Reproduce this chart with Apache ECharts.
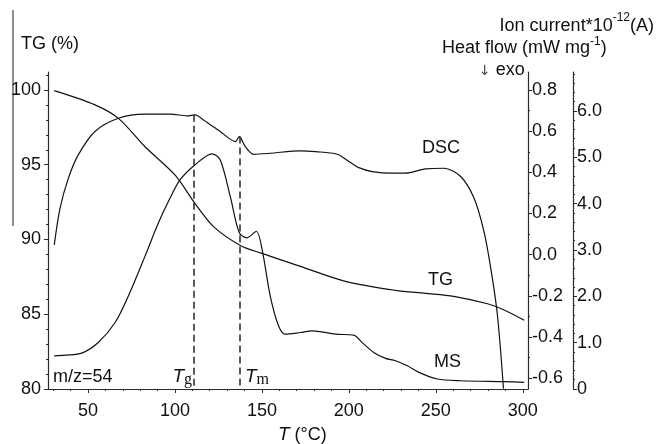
<!DOCTYPE html>
<html>
<head>
<meta charset="utf-8">
<script src="https://cdn.jsdelivr.net/npm/echarts@6/dist/echarts.min.js"></script>
<style>
  html, body { margin: 0; padding: 0; background: #fff; }
  #chart { width: 661px; height: 444px; }
</style>
</head>
<body>
<div id="chart"></div>
<script>
// Temperature (°C) / value pairs for the three thermal-analysis traces
const tgTemp = [30.6, 54, 67.5, 82.8, 100.1, 111.6, 122.2, 137.6, 149.1, 172.1, 198, 226.8, 244.1, 260.3, 279.7, 289, 300.8];
const tgMass = [99.95, 99.0, 98.1, 96.2, 94.3, 92.4, 90.86, 89.6, 89.1, 88.2, 87.2, 86.6, 86.4, 86.2, 85.7, 85.3, 84.6];

const dscTemp = [30.6, 33.9, 38.7, 44.4, 54, 67.5, 82.8, 97.2, 106.9, 111.6, 116.4, 126, 134.7, 137, 140.4, 145.2, 154.8, 172.1, 180.8, 193.3, 200, 205.7, 213.4, 224.9, 232.6, 244.1, 254.7, 264.3, 272, 277.7, 281.6, 285.4, 288.9];
const dscHeat = [0.047, 0.225, 0.371, 0.485, 0.599, 0.663, 0.683, 0.683, 0.675, 0.680, 0.655, 0.599, 0.550, 0.574, 0.526, 0.488, 0.493, 0.505, 0.501, 0.488, 0.453, 0.423, 0.404, 0.396, 0.396, 0.417, 0.420, 0.380, 0.274, 0.112, -0.067, -0.293, -0.651];

const msTemp = [30.6, 36.8, 46.4, 55.9, 65.6, 73.2, 82.8, 90.5, 97.2, 103, 111.6, 121.3, 126, 131.8, 137, 141.4, 146.8, 150.1, 154.8, 159.6, 163.5, 172.1, 178.9, 192.3, 202.8, 207.7, 214.3, 221.1, 226.8, 233.6, 240.3, 250.9, 264.3, 289.2, 300.8];
const msIon = [0.716, 0.731, 0.774, 1.004, 1.434, 2.006, 2.867, 3.585, 4.12, 4.516, 4.839, 5.075, 4.946, 4.157, 3.37, 3.262, 3.404, 3.011, 2.006, 1.361, 1.183, 1.219, 1.254, 1.183, 1.161, 1.0, 0.789, 0.66, 0.609, 0.50, 0.359, 0.215, 0.178, 0.157, 0.144];

// Glass transition and melting temperatures, and the DSC value where each marker starts
const tgMarkTemp = 111, tgMarkHeat = 0.68;
const tmMarkTemp = 137, tmMarkHeat = 0.574;

// Axis ticks
const tempTicks = [50, 100, 150, 200, 250, 300];
const massTicks = [80, 85, 90, 95, 100];
const heatTicks = [-0.6, -0.4, -0.2, 0, 0.2, 0.4, 0.6, 0.8];
const ionTicks = [0, 1, 2, 3, 4, 5, 6];

function steps(a, b, s) {
  const out = [];
  for (let i = 0; a + i * s <= b + 1e-9; i++) out.push(+(a + i * s).toFixed(4));
  return out;
}
const tempMinor = steps(30, 300, 10);
const massMinor = steps(80, 101, 1);
const heatMinor = steps(-0.6, 0.8, 0.1);
const ionMinor = steps(0, 6.8, 0.2);

const FONT = "'Liberation Sans', Arial, Helvetica, sans-serif";
const SERIF = "'Liberation Serif', 'Times New Roman', serif";
const INK = '#111';
const AXIS = '#2a2a2a';
const FS = 18;

const pairs = (xs, ys) => xs.map((x, i) => [x, ys[i]]);

const chart = echarts.init(document.getElementById('chart'), null, { renderer: 'canvas' });

// Measures text so inline super/subscripts can be placed right after the base text
const mctx = document.createElement('canvas').getContext('2d');
function widthOf(t, size, family, style) {
  mctx.font = (style || 'normal') + ' ' + size + 'px ' + family;
  return mctx.measureText(t).width;
}
// Lays out runs of text left to right from x (or ending at x when alignRight)
function runText(segs, x, y, alignRight) {
  const widths = segs.map(s => widthOf(s.t, s.size, s.family || FONT, s.style));
  const total = widths.reduce((a, b) => a + b, 0);
  let cx = alignRight ? x - total : x;
  return segs.map((s, i) => {
    const el = {
      type: 'text', x: cx, y: y + (s.dy || 0), silent: true,
      style: {
        text: s.t, fill: s.fill || INK, align: 'left', verticalAlign: 'middle',
        fontSize: s.size, fontFamily: s.family || FONT, fontStyle: s.style || 'normal'
      }
    };
    cx += widths[i];
    return el;
  });
}
function label(t, x, y, size, align) {
  return {
    type: 'text', x: x, y: y, silent: true,
    style: { text: t, fill: INK, fontSize: size || FS, fontFamily: FONT, align: align || 'left', verticalAlign: 'middle' }
  };
}

const lineStyle = { color: INK, width: 1.2 };
const tickFmt1 = v => (v === 0 ? '0' : v.toFixed(1));

function minorAxis(base, values) {
  return Object.assign({}, base, {
    axisLine: { show: false, onZero: false },
    axisLabel: { show: false },
    splitLine: { show: false },
    axisTick: { show: true, length: 2, customValues: values, lineStyle: { color: AXIS, width: 1 } }
  });
}

const xBase = { type: 'value', min: 27, max: 303, gridIndex: 0, position: 'bottom' };
const massBase = { type: 'value', min: 80, max: 101.2, position: 'left' };
const heatBase = { type: 'value', min: -0.653, max: 0.888, position: 'right', offset: 0 };
const ionBase = { type: 'value', min: 0, max: 6.84, position: 'right', offset: 45 };

const labelStyle = { color: INK, fontSize: FS, fontFamily: FONT };

const option = {
  animation: false,
  backgroundColor: '#fff',
  grid: { left: 48, right: 133, top: 72, bottom: 55, containLabel: false, outerBoundsMode: 'none' },
  xAxis: [
    Object.assign({}, xBase, {
      axisLine: { show: true, onZero: false, lineStyle: { color: AXIS, width: 1.2 } },
      axisTick: { show: true, length: 4, customValues: tempTicks, lineStyle: { color: AXIS } },
      axisLabel: Object.assign({ customValues: tempTicks, margin: 13 }, labelStyle),
      splitLine: { show: false }
    }),
    minorAxis(xBase, tempMinor)
  ],
  yAxis: [
    Object.assign({}, massBase, {
      axisLine: { show: true, onZero: false, lineStyle: { color: AXIS, width: 1.2 } },
      axisTick: { show: true, length: 4, customValues: massTicks, lineStyle: { color: AXIS } },
      axisLabel: Object.assign({ customValues: massTicks, margin: 7 }, labelStyle),
      splitLine: { show: false }
    }),
    Object.assign({}, heatBase, {
      axisLine: { show: true, onZero: false, lineStyle: { color: AXIS, width: 1.2 } },
      axisTick: { show: true, length: 4, customValues: heatTicks, lineStyle: { color: AXIS } },
      axisLabel: Object.assign({ customValues: heatTicks, margin: 4, formatter: v => v.toFixed(1) }, labelStyle),
      splitLine: { show: false }
    }),
    Object.assign({}, ionBase, {
      axisLine: { show: true, onZero: false, lineStyle: { color: AXIS, width: 1.2 } },
      axisTick: { show: true, length: 4, customValues: ionTicks, lineStyle: { color: AXIS } },
      axisLabel: Object.assign({ customValues: ionTicks, margin: 4, formatter: tickFmt1 }, labelStyle),
      splitLine: { show: false }
    }),
    minorAxis(massBase, massMinor),
    minorAxis(heatBase, heatMinor),
    minorAxis(ionBase, ionMinor)
  ],
  series: [
    {
      name: 'TG', type: 'line', xAxisIndex: 0, yAxisIndex: 0,
      data: pairs(tgTemp, tgMass), showSymbol: false, smooth: 0.3, lineStyle: lineStyle
    },
    {
      name: 'DSC', type: 'line', xAxisIndex: 0, yAxisIndex: 1,
      data: pairs(dscTemp, dscHeat), showSymbol: false, smooth: 0.3, lineStyle: lineStyle,
      markLine: {
        silent: true, symbol: 'none', label: { show: false },
        lineStyle: { color: '#333', width: 1.6, type: [7, 4] },
        data: [
          [{ coord: [tgMarkTemp, tgMarkHeat] }, { coord: [tgMarkTemp, heatBase.min] }],
          [{ coord: [tmMarkTemp, tmMarkHeat] }, { coord: [tmMarkTemp, heatBase.min] }]
        ]
      }
    },
    {
      name: 'MS', type: 'line', xAxisIndex: 0, yAxisIndex: 2,
      data: pairs(msTemp, msIon), showSymbol: false, smooth: 0.3, lineStyle: lineStyle
    }
  ],
  graphic: [].concat(
    [{ type: 'line', silent: true, shape: { x1: 13, y1: 10, x2: 13, y2: 226 }, style: { stroke: '#444', lineWidth: 1.2 } }],
    [label('TG (%)', 21, 44)],
    runText([
      { t: 'Ion current*10', size: FS },
      { t: '-12', size: 12, dy: -8 },
      { t: '(A)', size: FS }
    ], 654, 26, true),
    runText([
      { t: 'Heat flow (mW mg', size: FS },
      { t: '-1', size: 12, dy: -6 },
      { t: ')', size: FS }
    ], 442, 48, false),
    runText([
      { t: '\u2193', size: 14, family: "'DejaVu Sans', sans-serif", fill: '#444', dy: 1 },
      { t: ' exo', size: FS }
    ], 479, 70, false),
    [label('DSC', 422, 148), label('TG', 428, 280), label('MS', 434, 362), label('m/z=54', 53, 377)],
    runText([
      { t: 'T', size: 19, style: 'italic' },
      { t: 'g', size: 16, family: SERIF, dy: 3 }
    ], 192, 377, true),
    runText([
      { t: 'T', size: 19, style: 'italic' },
      { t: 'm', size: 16, family: SERIF, dy: 3 }
    ], 245, 377, false),
    runText([
      { t: 'T', size: 19, style: 'italic' },
      { t: ' (\u00B0C)', size: FS }
    ], 278, 435, false)
  )
};

chart.setOption(option);
</script>
</body>
</html>
